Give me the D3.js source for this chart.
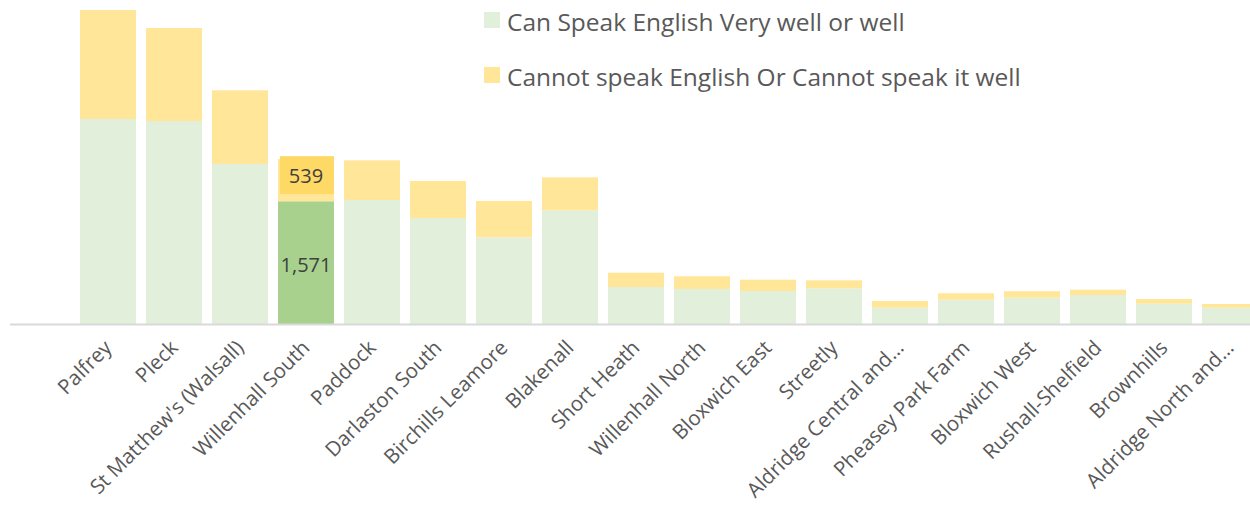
<!DOCTYPE html>
<html>
<head>
<meta charset="utf-8">
<script src="https://cdn.jsdelivr.net/npm/d3@7"></script>
<style>
  html, body { margin: 0; padding: 0; background: #fff; }
  svg { display: block; font-family: "Open Sans", sans-serif; }
</style>
</head>
<body>
<svg id="chart" width="1250" height="511"></svg>
<script>
// wards, sorted as in the source chart
const wards = [
    "Palfrey", "Pleck", "St Matthew's (Walsall)", "Willenhall South", "Paddock",
    "Darlaston South", "Birchills Leamore", "Blakenall", "Short Heath",
    "Willenhall North", "Bloxwich East", "Streetly", "Aldridge Central and\u2026",
    "Pheasey Park Farm", "Bloxwich West", "Rushall-Shelfield", "Brownhills",
    "Aldridge North and\u2026"
];

// residents who can speak English very well or well
const canSpeak = [2624, 2598, 2048, 1571, 1587, 1357, 1110, 1455, 474, 448, 422, 457, 209, 311, 337, 371, 260, 209];

// residents who cannot speak English or cannot speak it well
const cannotSpeak = [1395, 1190, 943, 539, 508, 474, 465, 422, 183, 163, 145, 102, 86, 82, 82, 68, 60, 47];

const seriesNames = ["Can Speak English Very well or well", "Cannot speak English Or Cannot speak it well"];
const highlighted = "Willenhall South";

const colors = {
    can: "#e2efda",
    cannot: "#ffe699",
    canHi: "#a9d18e",
    cannotHi: "#ffd966",
    text: "#595959",
    label: "#404040",
    axis: "#d9d9d9"
};

const svg = d3.select("#chart");

const baseline = 324;

const x = d3.scaleBand()
    .domain(wards)
    .range([75, 1263])
    .paddingInner(0.152)
    .paddingOuter(0.076);

// ~12.8 people per pixel
const y = d3.scaleLinear()
    .domain([0, 4147])
    .range([baseline, 0]);

const rows = wards.map((w, i) => ({ ward: w, can: canSpeak[i], cannot: cannotSpeak[i] }));
const stack = d3.stack().keys(["can", "cannot"])(rows);

const g = svg.append("g");

g.selectAll("g.layer")
    .data(stack)
    .join("g")
        .attr("class", "layer")
    .selectAll("rect")
    .data(d => d.map(p => ({ key: d.key, p })))
    .join("rect")
        .attr("x", d => x(d.p.data.ward))
        .attr("width", x.bandwidth())
        .attr("y", d => y(d.p[1]))
        .attr("height", d => y(d.p[0]) - y(d.p[1]))
        .attr("fill", d => {
            const hi = d.p.data.ward === highlighted;
            if (d.key === "can") return hi ? colors.canHi : colors.can;
            return colors.cannot;
        });

// axis line
svg.append("line")
    .attr("x1", 10).attr("x2", 1250)
    .attr("y1", baseline + 0.5).attr("y2", baseline + 0.5)
    .attr("stroke", colors.axis)
    .attr("stroke-width", 2);

// data labels on the highlighted ward
const hiRow = rows.find(r => r.ward === highlighted);
const hx = x(highlighted);
const topY = y(hiRow.can + hiRow.cannot);

svg.append("rect")
    .attr("x", hx + 2)
    .attr("width", x.bandwidth() - 2)
    .attr("y", topY - 3)
    .attr("height", 38)
    .attr("fill", colors.cannotHi);

svg.append("text")
    .attr("x", hx + x.bandwidth() / 2)
    .attr("y", topY + 16)
    .attr("text-anchor", "middle")
    .attr("dominant-baseline", "central")
    .attr("font-size", 20)
    .attr("fill", colors.label)
    .text(d3.format(",")(hiRow.cannot));

svg.append("text")
    .attr("x", hx + x.bandwidth() / 2)
    .attr("y", (y(hiRow.can) + y(0)) / 2 + 2)
    .attr("text-anchor", "middle")
    .attr("dominant-baseline", "central")
    .attr("font-size", 20)
    .attr("fill", colors.label)
    .text(d3.format(",")(hiRow.can));

// x-axis labels, rotated
svg.append("g")
    .selectAll("text")
    .data(wards)
    .join("text")
        .attr("transform", d => `translate(${x(d) + x.bandwidth() / 2 + 5},${baseline + 25}) rotate(-45)`)
        .attr("text-anchor", "end")
        .attr("font-size", 20.5)
        .attr("fill", colors.text)
        .text(d => d);

// legend
const legend = svg.append("g")
    .attr("transform", "translate(484,0)");

const legendItems = legend.selectAll("g")
    .data(seriesNames)
    .join("g")
        .attr("transform", (d, i) => `translate(0,${12 + i * 55})`);

legendItems.append("rect")
    .attr("width", 16)
    .attr("height", 16)
    .attr("fill", (d, i) => i === 0 ? colors.can : colors.cannot);

legendItems.append("text")
    .attr("x", 23)
    .attr("y", 9)
    .attr("dominant-baseline", "central")
    .attr("font-size", 24.5)
    .attr("fill", colors.text)
    .text(d => d);
</script>
</body>
</html>
